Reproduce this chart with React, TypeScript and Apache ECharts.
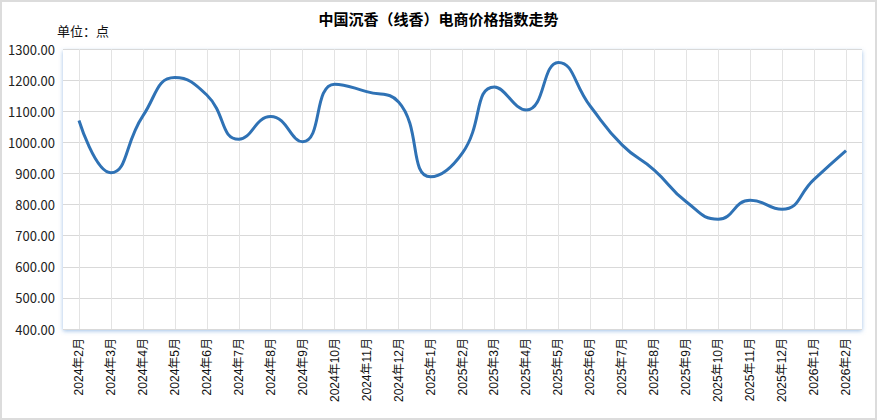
import React, { useEffect, useRef } from "react";
import * as echarts from "echarts";

const categories = [
  "2024年2月", "2024年3月", "2024年4月", "2024年5月", "2024年6月", "2024年7月",
  "2024年8月", "2024年9月", "2024年10月", "2024年11月", "2024年12月", "2025年1月",
  "2025年2月", "2025年3月", "2025年4月", "2025年5月", "2025年6月", "2025年7月",
  "2025年8月", "2025年9月", "2025年10月", "2025年11月", "2025年12月", "2026年1月",
  "2026年2月",
];

const values = [
  1070, 902, 1085, 1208, 1152, 1010,
  1083, 1002, 1187, 1163, 1130, 889,
  966, 1178, 1104, 1257, 1116, 991,
  911, 809, 753, 814, 785, 881,
  973,
];

const titleText = "中国沉香（线香）电商价格指数走势";
const unitText = "单位：点";

const FONT = '"Microsoft YaHei", "Noto Sans CJK SC", sans-serif';

export default function App() {
  const ref = useRef<HTMLDivElement>(null);
  useEffect(() => {
    if (!ref.current) return;
    const chart = echarts.init(ref.current, undefined, { renderer: "svg" });
    chart.setOption({
      animation: false,
      backgroundColor: "#fff",
      title: {
        text: titleText,
        left: "center",
        top: 4,
        textStyle: { fontSize: 15, fontWeight: "bold", color: "#000", fontFamily: FONT },
      },
      grid: {
        left: 61,
        right: 13,
        top: 47,
        bottom: 89,
        show: true,
        borderWidth: 0,
        backgroundColor: "#fff",
        shadowColor: "rgba(80,140,210,0.55)",
        shadowBlur: 4,
        shadowOffsetX: 0,
        shadowOffsetY: 2,
      },
      xAxis: {
        type: "category",
        data: categories,
        boundaryGap: true,
        axisLine: { show: false },
        axisTick: { show: false },
        axisLabel: {
          rotate: 90,
          margin: 9,
          fontSize: 12,
          color: "#111",
          fontFamily: '"Liberation Sans", Arial, "Noto Sans CJK SC", sans-serif',
          interval: 0,
        },
        splitLine: { show: true, alignWithLabel: true, lineStyle: { color: "#e3e3e3", width: 1 } },
      },
      yAxis: {
        type: "value",
        min: 400,
        max: 1300,
        interval: 100,
        name: unitText,
        nameLocation: "end",
        nameGap: 12,
        nameTextStyle: { align: "left", padding: [0, 0, 0, -6], fontSize: 13, color: "#111", fontFamily: FONT },
        axisLine: { show: false },
        axisTick: { show: false },
        axisLabel: {
          formatter: (v: number) => v.toFixed(2),
          fontSize: 13,
          color: "#222",
          margin: 8,
          fontFamily: FONT,
        },
        splitLine: { show: true, lineStyle: { color: "#d9d9d9", width: 1 } },
      },
      series: [
        {
          type: "line",
          data: values,
          smooth: true,
          showSymbol: false,
          symbol: "none",
          lineStyle: { color: "#2f72b5", width: 3 },
          itemStyle: { color: "#2f72b5" },
        },
      ],
    });
    return () => chart.dispose();
  }, []);
  return (
    <div
      style={{
        position: "absolute",
        left: 0,
        top: 0,
        width: 877,
        height: 420,
        boxSizing: "border-box",
        border: "2px solid #dcdcdc",
        background: "#fff",
      }}
    >
      <div ref={ref} style={{ width: 873, height: 416 }} />
    </div>
  );
}
